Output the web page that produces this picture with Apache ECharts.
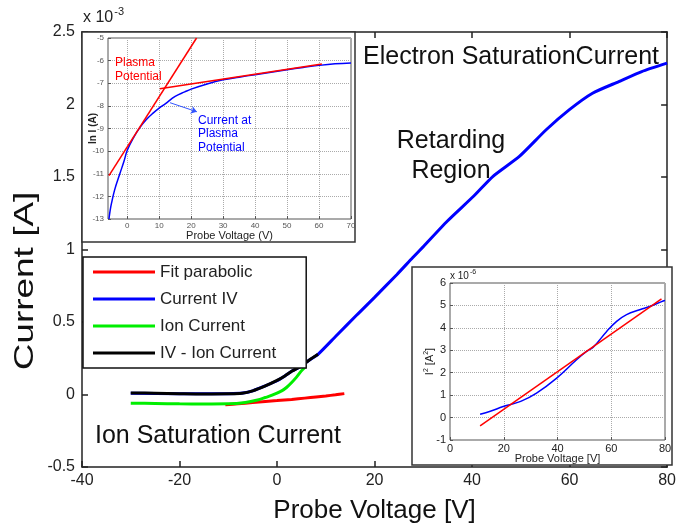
<!DOCTYPE html>
<html><head><meta charset="utf-8">
<script src="https://cdn.jsdelivr.net/npm/echarts@6/dist/echarts.min.js"></script>
<style>html,body{margin:0;padding:0;background:#fff}#c{width:679px;height:529px}</style>
</head><body><div id="c"></div>
<script>
// ---------- Main plot data ----------
const fitV = [-10.6,-8,-5,-2.4,0,3,5.7,8,10,12,13.8];
const fitI = [-0.071,-0.064,-0.056,-0.048,-0.042,-0.034,-0.025,-0.017,-0.01,-0.002,0.006];

const ivV = [-30,-20,-10,-7,-5,-2.4,0,1.6,3,5,6.5,8.4,12,16.5,20,24.6,27.8,30,34.9,40.3,44.3,49.7,55.2,59.9,64.7,70.1,74.8,80];
const ivI = [0.008,0.005,0.006,0.01,0.025,0.06,0.095,0.128,0.16,0.197,0.235,0.277,0.40,0.553,0.67,0.828,0.943,1.02,1.195,1.367,1.505,1.642,1.826,1.963,2.078,2.158,2.227,2.285];

const ionV = [-30,-25,-20,-15,-10,-6.5,-4,-2.4,-1,0.95,2,3,4,5,5.8];
const ionI = [-0.06,-0.062,-0.064,-0.065,-0.064,-0.055,-0.038,-0.021,-0.005,0.025,0.05,0.083,0.12,0.163,0.19];

const ivMinusIonV = [-30,-25,-20,-15,-10,-7.2,-5,-2.4,0,1.6,3,5,6.5,8.4];
const ivMinusIonI = [0.01,0.009,0.006,0.004,0.005,0.009,0.025,0.059,0.097,0.128,0.16,0.197,0.235,0.277];

const seriesNames = ['Fit parabolic','Current IV','Ion Current','IV - Ion Current'];

// ---------- Inset 1 (ln I) ----------
const lnV = [-5.7,-5.3,-4.9,-3.9,-2.3,-1,0,2,4,6,8,10,12,15,18,20,25,30,35,40,45,50,55,60,65,70];
const lnI = [-13,-12.6,-12.3,-11.7,-11.0,-10.45,-9.97,-9.4,-8.95,-8.6,-8.33,-8.1,-7.9,-7.58,-7.38,-7.26,-7.03,-6.85,-6.73,-6.62,-6.51,-6.4,-6.3,-6.21,-6.14,-6.1];
const fit1V = [-5.7,21.7];
const fit1I = [-11.08,-5.0];
const fit2V = [10.2,60.9];
const fit2I = [-7.24,-6.15];
const arrowV = [13.4,21.8];
const arrowI = [-7.86,-8.26];
const inset1XTicks = [0,10,20,30,40,50,60,70];

// ---------- Inset 2 (I^2) ----------
const sqV = [11.2,15,19.8,26.3,32.2,39.7,47.1,50.8,53.3,58.3,62,65.7,70.6,74.3,79.3,80];
const sqI = [0.15,0.28,0.49,0.72,1.09,1.76,2.58,2.95,3.14,3.84,4.29,4.59,4.81,4.95,5.2,5.22];
const sqFitV = [11.2,78.7];
const sqFitI = [-0.37,5.29];

const zip = (a,b) => a.map((v,i)=>[v,b[i]]);
const FF = "'Liberation Sans', Arial, Helvetica, sans-serif";

const chart = echarts.init(document.getElementById('c'), null, {renderer:'canvas'});

const mainTick = {show:true, inside:true, length:6, lineStyle:{color:'#222', width:1.5}};
const mainLine = {show:true, onZero:false, lineStyle:{color:'#222', width:1.5}};
const insetTick = {inside:true, length:3, lineStyle:{color:'#555'}};
const insetSplit = {show:true, lineStyle:{type:'dotted', color:'#aaa', width:1}};
const noLine = {show:false, onZero:false};

const option = {
  animation:false,
  backgroundColor:'#fff',
  textStyle:{fontFamily:FF},
  grid:[
    {left:82, top:32, width:590, height:436, show:false},
    {left:108, top:38, width:243, height:181, show:true, borderColor:'#555', borderWidth:1, z:5},
    {left:450, top:283, width:215, height:157, show:true, borderColor:'#555', borderWidth:1, z:5}
  ],
  xAxis:[
    {gridIndex:0, type:'value', min:-40, max:80, interval:20, position:'bottom',
     axisLine:mainLine, axisTick:mainTick, splitLine:{show:false},
     axisLabel:{fontSize:16, color:'#222', margin:6, fontFamily:FF},
     name:'Probe Voltage [V]', nameLocation:'middle', nameGap:31, nameMoveOverlap:false,
     nameTextStyle:{fontSize:26, color:'#111', fontFamily:FF}},
    {gridIndex:0, type:'value', min:-40, max:80, interval:20, position:'top',
     axisLine:mainLine, axisTick:mainTick, splitLine:{show:false}, axisLabel:{show:false}},
    {gridIndex:1, type:'value', min:-6, max:70, z:5,
     axisLine:noLine,
     axisTick:Object.assign({customValues:inset1XTicks}, insetTick),
     axisLabel:{customValues:inset1XTicks, fontSize:8, color:'#555', margin:3, fontFamily:FF},
     splitLine:insetSplit,
     name:'Probe Voltage (V)', nameLocation:'middle', nameGap:11, nameMoveOverlap:false,
     nameTextStyle:{fontSize:11, color:'#222', fontFamily:FF}},
    {gridIndex:2, type:'value', min:0, max:80, interval:20, z:5,
     axisLine:noLine, axisTick:insetTick,
     axisLabel:{fontSize:11, color:'#222', margin:3, fontFamily:FF},
     splitLine:insetSplit,
     name:'Probe Voltage [V]', nameLocation:'middle', nameGap:13, nameMoveOverlap:false,
     nameTextStyle:{fontSize:11, color:'#222', fontFamily:FF}}
  ],
  yAxis:[
    {gridIndex:0, type:'value', min:-0.5, max:2.5, interval:0.5, position:'left',
     axisLine:mainLine, axisTick:mainTick, splitLine:{show:false},
     axisLabel:{fontSize:16, color:'#222', margin:7, fontFamily:FF}},
    {gridIndex:0, type:'value', min:-0.5, max:2.5, interval:0.5, position:'right',
     axisLine:mainLine, axisTick:mainTick, splitLine:{show:false}, axisLabel:{show:false}},
    {gridIndex:1, type:'value', min:-13, max:-5, interval:1, z:5,
     axisLine:noLine, axisTick:insetTick,
     axisLabel:{fontSize:8, color:'#555', margin:4, fontFamily:FF},
     splitLine:insetSplit,
     name:'ln I (A)', nameLocation:'middle', nameGap:10, nameMoveOverlap:false,
     nameTextStyle:{fontSize:10, color:'#222', fontWeight:'bold', fontFamily:FF}},
    {gridIndex:2, type:'value', min:-1, max:6, interval:1, z:5,
     axisLine:noLine, axisTick:insetTick,
     axisLabel:{fontSize:11, color:'#222', margin:4, fontFamily:FF},
     splitLine:insetSplit,
     name:'I{s|2} [A{s|2}]', nameLocation:'middle', nameGap:14, nameMoveOverlap:false,
     nameTextStyle:{fontSize:11, color:'#222', fontFamily:FF,
       rich:{s:{fontSize:7, verticalAlign:'top', padding:[0,0,6,0], fontFamily:FF, color:'#222'}}}}
  ],
  legend:{
    data:seriesNames, orient:'vertical', left:83, top:257,
    backgroundColor:'#fff', borderColor:'#111', borderWidth:1.5,
    padding:[6,30,6,10], itemWidth:62, itemHeight:3, itemGap:9, icon:'rect',
    textStyle:{fontSize:17, color:'#222', lineHeight:18, fontFamily:FF}
  },
  series:[
    {name:'Fit parabolic', type:'line', xAxisIndex:0, yAxisIndex:0, data:zip(fitV,fitI),
     showSymbol:false, smooth:0.3, color:'#ff0000', lineStyle:{width:3, color:'#ff0000'}},
    {name:'Current IV', type:'line', xAxisIndex:0, yAxisIndex:0, data:zip(ivV,ivI),
     showSymbol:false, smooth:0.2, color:'#0000ff', lineStyle:{width:3, color:'#0000ff'}},
    {name:'Ion Current', type:'line', xAxisIndex:0, yAxisIndex:0, data:zip(ionV,ionI),
     showSymbol:false, smooth:0.3, color:'#00ee00', lineStyle:{width:3, color:'#00ee00'}},
    {name:'IV - Ion Current', type:'line', xAxisIndex:0, yAxisIndex:0, data:zip(ivMinusIonV,ivMinusIonI),
     showSymbol:false, smooth:0.3, color:'#000000', lineStyle:{width:3, color:'#000000'}},
    // inset 1
    {name:'lnI', type:'line', xAxisIndex:2, yAxisIndex:2, data:zip(lnV,lnI), z:6,
     showSymbol:false, smooth:0.4, lineStyle:{width:1.5, color:'#0000ff'}, color:'#0000ff',
     markLine:{silent:true, symbol:['none','arrow'], symbolSize:6, animation:false,
       lineStyle:{color:'#3355ff', width:1, type:'solid'}, label:{show:false},
       data:[[{coord:[arrowV[0],arrowI[0]]},{coord:[arrowV[1],arrowI[1]]}]]}},
    {name:'fit1', type:'line', xAxisIndex:2, yAxisIndex:2, data:zip(fit1V,fit1I), z:6,
     showSymbol:false, lineStyle:{width:1.5, color:'#ff0000'}, color:'#ff0000'},
    {name:'fit2', type:'line', xAxisIndex:2, yAxisIndex:2, data:zip(fit2V,fit2I), z:6,
     showSymbol:false, lineStyle:{width:1.5, color:'#ff0000'}, color:'#ff0000'},
    // inset 2
    {name:'sq', type:'line', xAxisIndex:3, yAxisIndex:3, data:zip(sqV,sqI), z:6,
     showSymbol:false, smooth:0.4, lineStyle:{width:1.5, color:'#0000ff'}, color:'#0000ff'},
    {name:'sqfit', type:'line', xAxisIndex:3, yAxisIndex:3, data:zip(sqFitV,sqFitI), z:6,
     showSymbol:false, lineStyle:{width:1.5, color:'#ff0000'}, color:'#ff0000'}
  ],
  graphic:[
    {type:'rect', z:1, shape:{x:82, y:32, width:273, height:210},
     style:{fill:'#fff', stroke:'#333', lineWidth:1.5}},
    {type:'rect', z:1, shape:{x:412, y:267, width:260, height:198},
     style:{fill:'#fff', stroke:'#333', lineWidth:1.5}},
    {type:'text', z:10, x:83, y:18,
     style:{text:'x 10{s|-3}', fontSize:16, fontFamily:FF, fill:'#222', align:'left', verticalAlign:'middle',
       rich:{s:{fontSize:11, fontFamily:FF, fill:'#222', verticalAlign:'top', padding:[0,0,12,1]}}}},
    {type:'text', z:10, x:450, y:276,
     style:{text:'x 10{s|-6}', fontSize:10, fontFamily:FF, fill:'#222', align:'left', verticalAlign:'middle',
       rich:{s:{fontSize:7, fontFamily:FF, fill:'#222', verticalAlign:'top', padding:[0,0,8,1]}}}},
    {type:'text', z:10, x:363, y:57,
     style:{text:'Electron SaturationCurrent', fontSize:25, fontFamily:FF, fill:'#111', align:'left', verticalAlign:'middle'}},
    {type:'text', z:10, x:451, y:156,
     style:{text:'Retarding\nRegion', fontSize:25, lineHeight:30, fontFamily:FF, fill:'#111', align:'center', verticalAlign:'middle'}},
    {type:'text', z:10, x:95, y:436,
     style:{text:'Ion Saturation Current', fontSize:25, fontFamily:FF, fill:'#111', align:'left', verticalAlign:'middle'}},
    {type:'text', z:10, x:25, y:281, rotation:Math.PI/2, scaleX:1.32,
     style:{text:'Current [A]', fontSize:28, fontFamily:FF, fill:'#111', align:'center', verticalAlign:'middle'}},
    {type:'text', z:10, x:115, y:70,
     style:{text:'Plasma\nPotential', fontSize:12, lineHeight:14, fontFamily:FF, fill:'#ff0000', align:'left', verticalAlign:'middle'}},
    {type:'text', z:10, x:198, y:134,
     style:{text:'Current at\nPlasma\nPotential', fontSize:12, lineHeight:13.5, fontFamily:FF, fill:'#0000ff', align:'left', verticalAlign:'middle'}}
  ]
};
chart.setOption(option);
</script>
</body></html>
